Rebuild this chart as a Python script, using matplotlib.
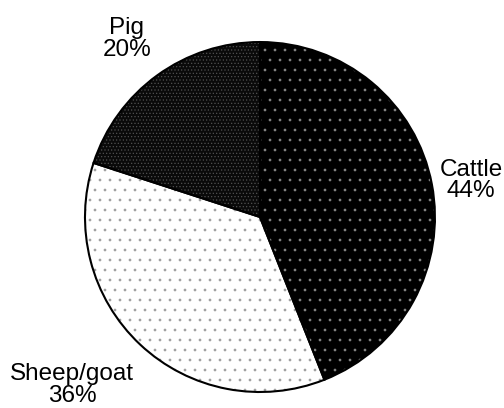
import matplotlib.pyplot as plt

animals = ["Cattle", "Sheep/goat", "Pig"]
shares = [44, 36, 20]

face_colors = ["black", "white", "#0a0a0a"]
dot_colors = ["#8c8c8c", "#9a9a9a", "#505050"]
hatches = [".", ".", "..."]

# render at 60 dpi so that the hatch tile (1 inch) gives ~10 px dot spacing
DPI = 60
k = 100 / DPI  # point scale so sizes look like a 100 dpi figure

plt.rcParams["font.family"] = ["Liberation Sans", "DejaVu Sans"]
plt.rcParams["hatch.linewidth"] = 0.5 * k

fig = plt.figure(figsize=(505 / DPI, 408 / DPI), dpi=DPI)
ax = fig.add_axes([0.1683, 0.0392, 0.693, 0.8578])

wedges, _ = ax.pie(shares, startangle=90, counterclock=False, radius=1.0)
for w, fc, dc, h in zip(wedges, face_colors, dot_colors, hatches):
    w.set_facecolor(fc)
    w.set_edgecolor(dc)
    w.set_linewidth(0)
    w.set_hatch(h)

# black outline on top
ax.pie(shares, startangle=90, counterclock=False, radius=1.0,
       wedgeprops=dict(fill=False, edgecolor="black", linewidth=1.5 * k))

# labels, in data units relative to centre
label_pos = [(1.206, 0.211), (-1.074, -0.96), (-0.76, 1.017)]
for name, pct, (x, y) in zip(animals, shares, label_pos):
    ax.text(x, y, f"{name}\n{pct}%", ha="center", va="center",
            fontsize=17.5 * k, linespacing=0.95)

ax.set_xlim(-1, 1)
ax.set_ylim(-1, 1)
ax.set_aspect("equal")
ax.axis("off")

fig.savefig("out.png", dpi=DPI)
